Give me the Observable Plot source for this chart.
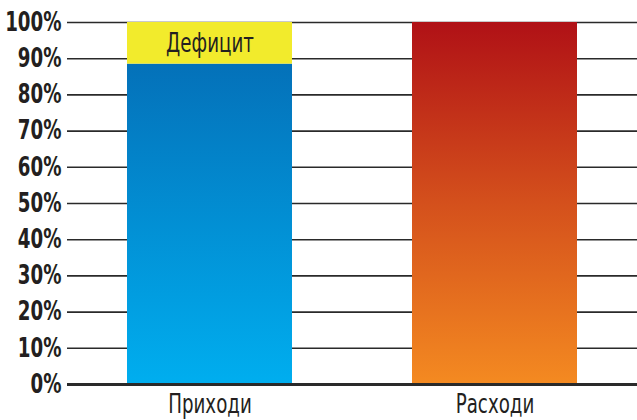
<!DOCTYPE html>
<html><head><meta charset="utf-8">
<script src="https://cdn.jsdelivr.net/npm/d3@7"></script>
<script src="https://cdn.jsdelivr.net/npm/@observablehq/plot@0.6"></script>
<style>
body{margin:0;background:#fff;}
svg{font-family:"Liberation Sans Narrow","DejaVu Sans Condensed",sans-serif;}
</style>
</head><body><div id="chart"></div>
<script>
const categories = ["Приходи", "Расходи"];
const revenue = 88.5;      // Приходи share
const deficit = 11.5;      // Дефицит share on top
const expenses = 100;      // Расходи
const deficitLabel = "Дефицит";
const yTicks = [0,10,20,30,40,50,60,70,80,90,100];

const segments = [
  {cat: categories[0], y1: 0, y2: revenue, fill: "url(#gBlue)"},
  {cat: categories[0], y1: revenue, y2: revenue + deficit, fill: "#f2eb2c"},
  {cat: categories[1], y1: 0, y2: expenses, fill: "url(#gRed)"}
];

const defs = () => {
  const ns = "http://www.w3.org/2000/svg";
  const g = document.createElementNS(ns, "defs");
  g.innerHTML = `
  <linearGradient id="gBlue" x1="0" y1="1" x2="0" y2="0">
    <stop offset="0" stop-color="#00aeef"/>
    <stop offset="1" stop-color="#0471b9"/>
  </linearGradient>
  <linearGradient id="gRed" x1="0" y1="1" x2="0" y2="0">
    <stop offset="0" stop-color="#f48a21"/>
    <stop offset="0.5" stop-color="#d4501c"/>
    <stop offset="1" stop-color="#b01116"/>
  </linearGradient>`;
  return g;
};

const chart = Plot.plot({
  width: 637,
  height: 420,
  marginLeft: 67,
  marginRight: 0,
  marginTop: 22,
  marginBottom: 36,
  x: {domain: categories, paddingInner: 0.421, paddingOuter: 0.2105, label: null, tickSize: 0, tickPadding: 10},
  y: {domain: [0, 100], ticks: yTicks, label: null, tickSize: 0, tickPadding: 6, tickFormat: d => d + "%"},
  style: {fontSize: "26px", color: "#231f20", background: "#fff"},
  marks: [
    defs,
    Plot.ruleY(yTicks.filter(d => d > 0), {stroke: "#2a2a2a", strokeWidth: 1.6}),
    Plot.rectY(segments, {x: "cat", y1: "y1", y2: "y2", fill: d => d.fill}),
    Plot.ruleY([0], {stroke: "#2a2a2a", strokeWidth: 3}),
    Plot.text([{cat: categories[0], y: revenue + deficit / 2}], {x: "cat", y: "y", text: () => deficitLabel, fontSize: 26, fill: "#231f20"})
  ]
});
document.getElementById("chart").append(chart);
chart.querySelectorAll("g[aria-label='y-axis tick label'] text").forEach(t => t.setAttribute("font-weight", "bold"));
// condense glyphs horizontally around each text's anchor
chart.querySelectorAll("text").forEach(t => {
  const tr = t.getAttribute("transform");
  if (tr) t.setAttribute("transform", tr + " scale(0.78,1)");
});
</script>
</body></html>
